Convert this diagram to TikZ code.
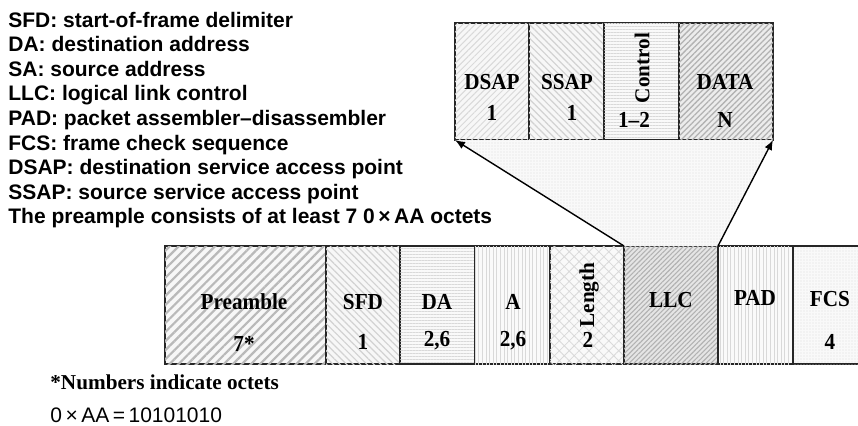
\documentclass[tikz,border=0pt]{standalone}
\usepackage{fontspec}
\setmainfont{Liberation Serif}
\newfontfamily\arialfont{Liberation Sans}
\usetikzlibrary{patterns.meta,arrows.meta}

\tikzset{
  field/.style={draw=black!85, line width=0.8pt, inner sep=0pt, outer sep=0pt},
  lbl/.style={font=\bfseries\fontsize{10.6}{12}\selectfont, inner sep=0pt, anchor=base, yscale=1.08, transform shape},
  vlbl/.style={font=\bfseries\fontsize{10.6}{12}\selectfont, inner sep=0pt, rotate=90},
  legend/.style={font=\arialfont\bfseries\fontsize{10.5}{12.3}\selectfont, inner sep=0pt, anchor=base west},
  note/.style={font=\bfseries\fontsize{10.6}{12}\selectfont, inner sep=0pt, anchor=base west},
  formula/.style={font=\arialfont\fontsize{10.5}{12}\selectfont, inner sep=0pt, anchor=base west},
  link/.style={line width=0.7pt, -{Latex[length=5pt,width=4pt]}},
  % fills of the individual fields
  fNEdark/.style={fill=gray!6, postaction={pattern={Lines[angle=45,distance=3.2pt,line width=1.1pt]}, pattern color=gray!55}},
  fNEdense/.style={fill=gray!20, postaction={pattern={Lines[angle=45,distance=1.7pt,line width=0.55pt]}, pattern color=gray!60}},
  fNEdata/.style={fill=gray!15, postaction={pattern={Lines[angle=45,distance=2pt,line width=0.65pt]}, pattern color=gray!60}},
  fNElight/.style={fill=gray!6, postaction={pattern={Lines[angle=45,distance=2.2pt,line width=0.5pt]}, pattern color=gray!30}},
  fNWlight/.style={fill=gray!6, postaction={pattern={Lines[angle=-45,distance=2.4pt,line width=0.6pt]}, pattern color=gray!35}},
  fHlight/.style={fill=gray!5, postaction={pattern={Lines[angle=0,distance=1.5pt,line width=0.4pt]}, pattern color=gray!30}},
  fVlight/.style={fill=gray!4, postaction={pattern={Lines[angle=90,distance=1.8pt,line width=0.45pt]}, pattern color=gray!30}},
  fGrid/.style={fill=gray!5, postaction={pattern={Hatch[angle=45,distance=3.5pt,line width=0.4pt]}, pattern color=gray!30}},
  fDots/.style={fill=gray!5, postaction={pattern={Dots[radius=0.35pt,distance=1.5pt]}, pattern color=gray!25}},
}

% field box: name, x1, x2, y1 (top), y2 (bottom), fill style
\newcommand\fieldbox[6]{%
  \node[field,#6,anchor=north west,
        minimum width={(#3-#2)*0.5pt},minimum height={(#5-#4)*0.5pt}] (#1) at (#2,#4) {};}

\begin{document}
\begin{tikzpicture}[x=0.5pt,y=-0.5pt]
\useasboundingbox (0,0) rectangle (858,425);

% legend
\node[legend] (leg1) at (8,27)    {SFD: start-of-frame delimiter};
\node[legend] (leg2) at (8,51.6)  {DA: destination address};
\node[legend] (leg3) at (8,76.2)  {SA: source address};
\node[legend] (leg4) at (8,100.8) {LLC: logical link control};
\node[legend] (leg5) at (8,125.4) {PAD: packet assembler–disassembler};
\node[legend] (leg6) at (8,150)   {FCS: frame check sequence};
\node[legend] (leg7) at (8,174.6) {DSAP: destination service access point};
\node[legend] (leg8) at (8,199.2) {SSAP: source service access point};
\node[legend] (leg9) at (8,223.8) {The preample consists of at least 7 0\,×\,AA octets};

% LLC sub-frame
\fieldbox{dsap}{455}{529}{23}{140}{fNElight}
\fieldbox{ssap}{529}{604}{23}{140}{fNWlight}
\fieldbox{ctrl}{604}{679}{23}{140}{fHlight}
\fieldbox{data}{679}{773}{23}{140}{fNEdata}

% MAC frame
\fieldbox{pre}{165}{326}{246}{364}{fNEdark}
\fieldbox{sfd}{326}{400}{246}{364}{fNWlight}
\fieldbox{da}{400}{475}{246}{364}{fHlight}
\fieldbox{sa}{475}{550}{246}{364}{fVlight}
\fieldbox{len}{550}{624}{246}{364}{fGrid}
\fieldbox{llc}{624}{718}{246}{364}{fNEdense}
\fieldbox{pad}{718}{793}{246}{364}{fVlight}
\fieldbox{fcs}{793}{860}{246}{364}{fDots}

% expansion of the LLC field
\path[fDots] (llc.north west) -- (dsap.south west) -- (data.south east) -- (llc.north east) -- cycle;
\draw[link] (llc.north west) -- (dsap.south west);
\draw[link] (llc.north east) -- (data.south east);

% labels of the LLC sub-frame
\node[lbl] (dsapt) at (492,89)  {DSAP};
\node[lbl] (dsapn) at (492,120) {1};
\node[lbl] (ssapt) at (567,89)  {SSAP};
\node[lbl] (ssapn) at (572,120) {1};
\node[vlbl] (ctrlt) at (642,68) {Control};
\node[lbl] (ctrln) at (634,127) {1–2};
\node[lbl] (datat) at (725,89)  {DATA};
\node[lbl] (datan) at (725,127) {N};

% labels of the MAC frame
\node[lbl] (pret) at (244,309) {Preamble};
\node[lbl] (pren) at (244,351) {7*};
\node[lbl] (sfdt) at (363,309) {SFD};
\node[lbl] (sfdn) at (363,349) {1};
\node[lbl] (dat)  at (437,309) {DA};
\node[lbl] (dan)  at (437,346) {2,6};
\node[lbl] (sat)  at (513,309) {A};
\node[lbl] (san)  at (513,346) {2,6};
\node[vlbl] (lent) at (589,295) {Length};
\node[lbl] (lenn) at (588,347) {2};
\node[lbl] (llct) at (671,307) {LLC};
\node[lbl] (padt) at (755,305) {PAD};
\node[lbl] (fcst) at (830,306) {FCS};
\node[lbl] (fcsn) at (830,349) {4};

% notes below the frame
\node[note] (octets) at (50,389) {*Numbers indicate octets};
\node[formula] (aa) at (50,422) {0\,×\,AA\,=\,10101010};
\end{tikzpicture}
\end{document}
